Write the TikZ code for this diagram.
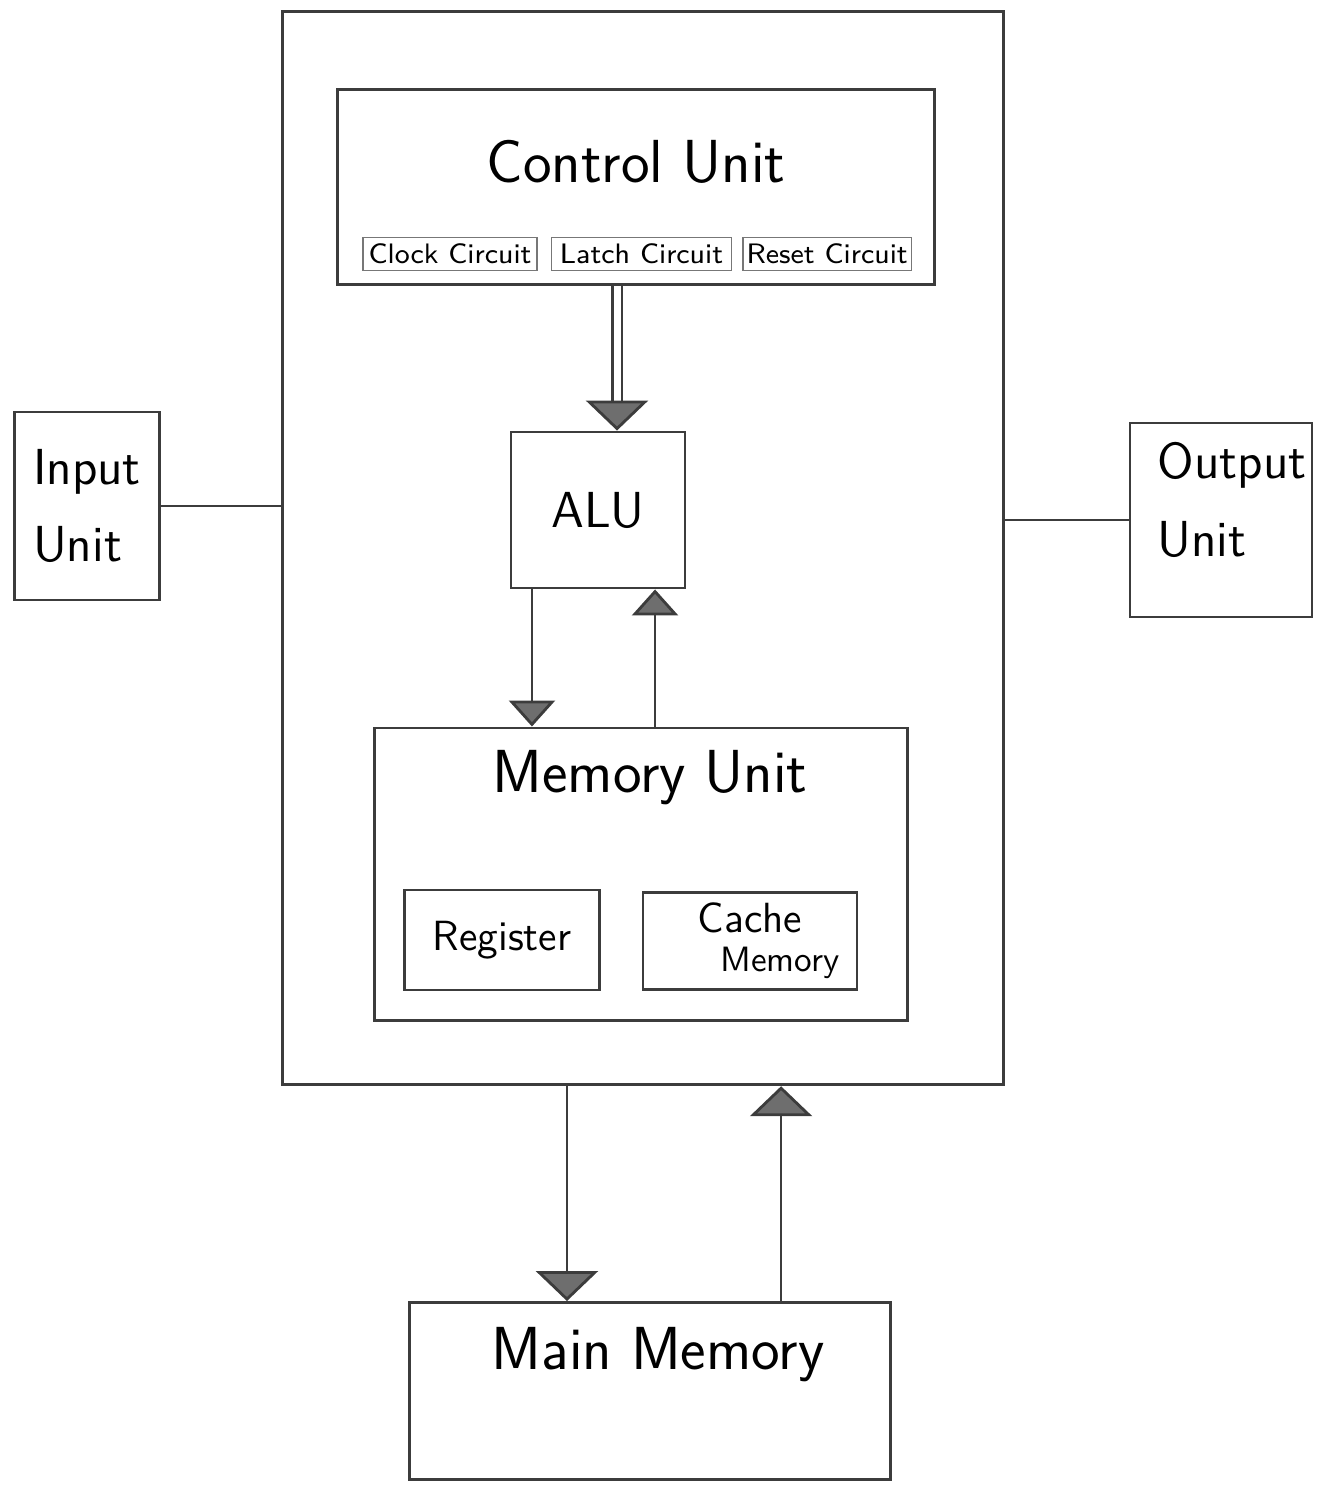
\documentclass[tikz,border=0pt]{standalone}
\usepackage{tikz}
\usetikzlibrary{arrows.meta,positioning}
\definecolor{inkgray}{RGB}{60,60,60}
\definecolor{headgray}{RGB}{110,110,110}

\begin{document}
\begin{tikzpicture}[
    x=0.01cm, y=-0.01cm,
    font=\sffamily,
    unit/.style={draw, thick, inkgray, text=black, inner sep=0pt},
    subunit/.style={draw, inkgray!70, text=black, inner sep=1pt, minimum height=0.33cm, font=\sffamily\footnotesize},
    title/.style={font=\sffamily\LARGE, inner sep=0pt},
    arr/.style={thick, inkgray, -{Triangle[width=0.46cm, length=0.26cm, fill=headgray]}},
    bigarr/.style={thick, inkgray, -{Triangle[width=0.62cm, length=0.3cm, fill=headgray]}}
]
    \useasboundingbox (0,0) rectangle (1330,1491);

    % processor frame
    \node[unit, minimum width=7.2cm, minimum height=10.73cm] (cpu) at (643,548) {};

    % control unit with its circuits
    \node[unit, minimum width=5.97cm, minimum height=1.95cm] (cu) at (636,187) {};
    \node[title] (cutitle) at (636,162) {Control Unit};
    \node[subunit, minimum width=1.74cm] (clock) at (450,254) {Clock Circuit};
    \node[subunit, minimum width=1.8cm, right=0.13cm of clock] (latch) {Latch Circuit};
    \node[subunit, minimum width=1.65cm, right=0.1cm of latch] (reset) {Reset Circuit};

    % arithmetic logic unit
    \node[unit, minimum width=1.74cm, minimum height=1.56cm, font=\sffamily\Large] (alu) at (598,510) {ALU};

    % memory unit with register and cache
    \node[unit, minimum width=5.32cm, minimum height=2.92cm] (mem) at (641,874) {};
    \node[title] (memtitle) at (650,778) {Memory Unit};
    \node[unit, minimum width=1.95cm, minimum height=1.0cm, font=\sffamily\large] (reg) at (502,940) {Register};
    \node[unit, minimum width=2.14cm, minimum height=0.97cm, align=center, font=\sffamily\large] (cache) at (750,941) {Cache\\[-3pt]\hspace*{0.6cm}\normalsize Memory};

    % main memory
    \node[unit, minimum width=4.8cm, minimum height=1.77cm] (main) at (650,1391) {};
    \node[title] (maintitle) at (658,1355) {Main Memory};

    % input and output
    \node[unit, minimum width=1.45cm, minimum height=1.88cm, align=left, font=\sffamily\Large] (input) at (87,506) {Input\\[4pt]Unit};
    \node[unit, minimum width=1.82cm, minimum height=1.94cm] (output) at (1221,520) {};
    \node[align=left, font=\sffamily\Large, inner sep=0pt] (outtext) at (1232,500) {Output\\[4pt]Unit};

    % connections
    \draw[thick, inkgray] (input.east) -- (input.east -| cpu.west);
    \draw[thick, inkgray] (output.west -| cpu.east) -- (output.west);
    \draw[bigarr, double, double distance=0.07cm] ([xshift=0.19cm]cu.south -| alu) -- ([xshift=0.19cm]alu.north);
    \draw[arr] ([xshift=-0.66cm]alu.south) -- ([xshift=-0.66cm]alu.south |- mem.north);
    \draw[arr] ([xshift=0.57cm]alu.south |- mem.north) -- ([xshift=0.57cm]alu.south);
    \draw[bigarr] ([xshift=-0.83cm]main.north |- cpu.south) -- ([xshift=-0.83cm]main.north);
    \draw[bigarr] ([xshift=1.31cm]main.north) -- ([xshift=1.31cm]main.north |- cpu.south);
\end{tikzpicture}
\end{document}
